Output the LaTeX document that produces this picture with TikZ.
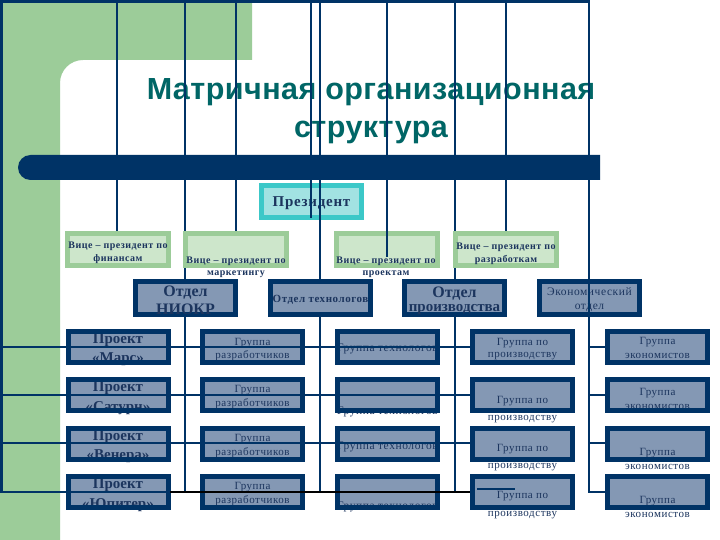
\documentclass[tikz,border=0pt]{standalone}
\usepackage{fontspec}
\setmainfont{Liberation Serif}
\newfontfamily\spaced{Liberation Serif}[LetterSpace=5]
\newfontfamily\titlefont{Liberation Sans}[LetterSpace=1.5]
\definecolor{navy}{HTML}{003366}
\definecolor{steel}{HTML}{8498B4}
\definecolor{bggreen}{HTML}{9CCC99}
\definecolor{vpborder}{HTML}{9CCC99}
\definecolor{vpfill}{HTML}{CDE6CB}
\definecolor{prborder}{HTML}{3CC8C8}
\definecolor{prfill}{HTML}{A2E2E2}
\definecolor{titlecol}{HTML}{006666}
\definecolor{ink}{HTML}{1C355E}
\begin{document}
\begin{tikzpicture}[x=1pt,y=-1pt,
  ln/.style={draw=navy,line width=2.2pt},
  rowln/.style={draw=navy,line width=2pt},
  vpbox/.style={draw=vpborder,fill=vpfill,line width=5pt,minimum width=101pt,minimum height=32pt,inner sep=0pt,outer sep=0pt},
  prbox/.style={draw=prborder,fill=prfill,line width=5pt,minimum width=100pt,minimum height=32pt,inner sep=0pt,outer sep=0pt},
  deptbox/.style={draw=navy,fill=steel,line width=5pt,minimum width=100pt,minimum height=33pt,inner sep=0pt,outer sep=0pt},
  gfill/.style={fill=steel,minimum width=100pt,minimum height=31pt,inner sep=0pt,outer sep=0pt},
  gborder/.style={draw=navy,line width=5pt},
  txt/.style={text=ink,inner sep=0pt,anchor=base},
  vptxt/.style={txt,font=\spaced\fontsize{10}{12}\selectfont\bfseries},
  bigb/.style={txt,font=\fontsize{15}{17}\selectfont\bfseries},
  small/.style={txt,font=\spaced\fontsize{11}{13}\selectfont},
  titlestyle/.style={text=titlecol,inner sep=0pt,anchor=base,font=\titlefont\fontsize{30.5}{34}\selectfont\bfseries}
]
\useasboundingbox (0,0) rectangle (720,540);
\fill[white] (0,0) rectangle (720,540);
% green background
\fill[bggreen] (0,0) -- (252,0) -- (252,60) -- (83,60) arc[start angle=90,end angle=180,radius=23pt] -- (60,540) -- (0,540) -- cycle;
% bar
\fill[navy] (600,155) -- (30.5,155) arc[start angle=90,end angle=270,radius=12.5pt] -- (600,180) -- cycle;
% title
\node[titlestyle] (title1) at (371,100) {Матричная организационная};
\node[titlestyle] (title2) at (371,138) {структура};
% frame and lines (behind boxes)
\draw[ln,line width=3pt] (0,1.5) -- (590,1.5);
\draw[ln] (1.5,0) -- (1.5,492);
\draw[ln] (117,0) -- (117,232);
\draw[ln] (185,0) -- (185,492);
\draw[ln] (236,0) -- (236,232);
\draw[ln] (311,0) -- (311,218);
\draw[ln] (320,0) -- (320,492);
\draw[ln] (387,0) -- (387,257);
\draw[ln] (455,0) -- (455,492);
\draw[ln] (506,0) -- (506,232);
\draw[ln] (589,0) -- (589,492);
\foreach \y in {347,395,443}{
  \draw[rowln] (589,\y) -- (605,\y);
}
\draw[rowln] (588,492) -- (605,492);
% president
\node[prbox] (pres) at (311.5,201.5) {};
\node[txt,font=\spaced\fontsize{15}{17}\selectfont\bfseries] (prestxt) at (311.5,207) {Президент};
% VP boxes
\node[vpbox] (vp1) at (118,249.5) {};
\node[vpbox] (vp2) at (235.5,249.5) {};
\node[vpbox] (vp3) at (386.5,249.5) {};
\node[vpbox] (vp4) at (505.5,249.5) {};
\node[vptxt] (vp1a) at (118,248) {Вице – президент по};
\node[vptxt] (vp1b) at (118,261) {финансам};
\node[vptxt] (vp2a) at (236,263) {Вице – президент по};
\node[vptxt] (vp2b) at (236,275) {маркетингу};
\node[vptxt] (vp3a) at (386,263) {Вице – президент по};
\node[vptxt] (vp3b) at (386,275) {проектам};
\node[vptxt] (vp4a) at (506,249) {Вице – президент по};
\node[vptxt] (vp4b) at (506,262) {разработкам};
% departments
\node[deptbox] (d1) at (185.5,298) {};
\node[deptbox] (d2) at (320.5,298) {};
\node[deptbox] (d3) at (454.5,298) {};
\node[deptbox] (d4) at (589.5,298) {};
\node[txt,font=\fontsize{16}{18}\selectfont\bfseries] (d1a) at (185.5,296) {Отдел};
\node[txt,font=\fontsize{16}{18}\selectfont\bfseries] (d1b) at (185.5,314) {НИОКР};
\node[txt,font=\spaced\fontsize{11}{13}\selectfont\bfseries] (d2a) at (320.5,302) {Отдел технологов};
\node[txt,font=\fontsize{16}{18}\selectfont\bfseries] (d3a) at (454.5,297) {Отдел};
\node[txt,font=\fontsize{15}{18}\selectfont\bfseries] (d3b) at (454.5,311) {производства};
\node[txt,font=\spaced\fontsize{11.5}{13}\selectfont] (d4a) at (589.5,295) {Экономический};
\node[txt,font=\spaced\fontsize{11.5}{13}\selectfont] (d4b) at (589.5,309) {отдел};
% overlay lines over boxes
\draw[ln] (311,183) -- (311,218);
\draw[ln] (320,183) -- (320,279);
\draw[ln] (387,231) -- (387,257);
\draw[ln] (589,279) -- (589,317);
% grid box fills
\foreach \c/\x in {1/118,2/252.5,3/387.5,4/522.5,5/657.5}{
  \foreach \r/\y in {1/347,2/395,3/443.5,4/491.5}{
    \node[gfill] (g\c\r) at (\x,\y) {};
  }
}
% column 1 texts
\node[bigb] (t11a) at (118,343) {Проект};
\node[bigb] (t11b) at (118,362) {«Марс»};
\node[bigb] (t12a) at (118,391) {Проект};
\node[bigb] (t12b) at (118,411) {«Сатурн»};
\node[bigb] (t13a) at (118,440) {Проект};
\node[bigb] (t13b) at (118,459) {«Венера»};
\node[bigb] (t14a) at (118,488) {Проект};
\node[bigb] (t14b) at (118,508) {«Юпитер»};
% column 2 texts
\node[small] (t21a) at (252.5,345) {Группа};
\node[small] (t21b) at (252.5,358) {разработчиков};
\node[small] (t22a) at (252.5,392) {Группа};
\node[small] (t22b) at (252.5,406) {разработчиков};
\node[small] (t23a) at (252.5,441) {Группа};
\node[small] (t23b) at (252.5,455) {разработчиков};
\node[small] (t24a) at (252.5,489) {Группа};
\node[small] (t24b) at (252.5,503) {разработчиков};
% column 3 texts
\node[txt,font=\spaced\fontsize{11.5}{14}\selectfont] (t31) at (387.5,351) {Группа технологов};
\node[txt,font=\spaced\fontsize{11.5}{14}\selectfont] (t32) at (387.5,414) {Группа технологов};
\node[txt,font=\spaced\fontsize{11.5}{14}\selectfont] (t33) at (387.5,449) {Группа технологов};
\node[txt,font=\spaced\fontsize{11.5}{14}\selectfont] (t34) at (387.5,509) {Группа технологов};
% column 4 texts
\node[small] (t41a) at (522.5,345) {Группа по};
\node[small] (t41b) at (522.5,357) {производству};
\node[small] (t42a) at (522.5,403) {Группа по};
\node[small] (t42b) at (522.5,420) {производству};
\node[small] (t43a) at (522.5,451) {Группа по};
\node[small] (t43b) at (522.5,468) {производству};
\node[small] (t44a) at (522.5,498) {Группа по};
\node[small] (t44b) at (522.5,516) {производству};
% column 5 texts
\node[small] (t51a) at (657.5,344) {Группа};
\node[small] (t51b) at (657.5,358) {экономистов};
\node[small] (t52a) at (657.5,395) {Группа};
\node[small] (t52b) at (657.5,409) {экономистов};
\node[small] (t53a) at (657.5,455) {Группа};
\node[small] (t53b) at (657.5,469) {экономистов};
\node[small] (t54a) at (657.5,503) {Группа};
\node[small] (t54b) at (657.5,517) {экономистов};
% grid borders
\foreach \c in {1,2,3,4,5}{
  \foreach \r in {1,2,3,4}{
    \draw[gborder] (g\c\r.north west) rectangle (g\c\r.south east);
  }
}
% row lines over project, developer and technologist boxes
\draw[rowln] (0,347) -- (g41.west);
\draw[rowln] (0,395) -- (g42.west);
\draw[rowln] (0,443) -- (470,443);
\draw[rowln] (0,492) -- (170,492);
\draw[draw=black,line width=2.6pt] (170,492) -- (470,492);
\draw[draw=navy,line width=2.4pt] (477,489) -- (515,489);
\end{tikzpicture}
\end{document}
